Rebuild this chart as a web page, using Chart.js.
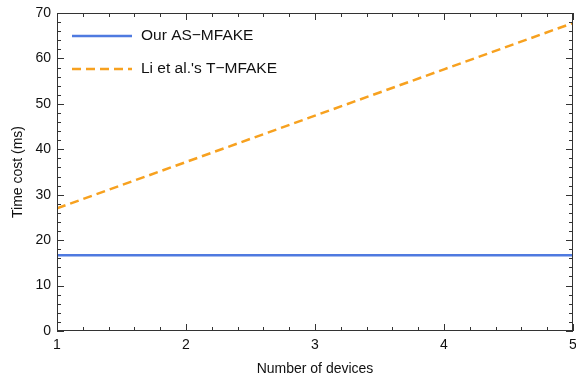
<!DOCTYPE html>
<html lang="en">
<head>
    <meta charset="UTF-8">
    <title>Time cost vs number of devices</title>
    <script src="https://cdn.jsdelivr.net/npm/chart.js"></script>
    <style>
        html, body { margin: 0; padding: 0; background: #fff; }
        #wrap { width: 576px; height: 382px; }
    </style>
</head>
<body>
<div id="wrap"><canvas id="timeChart" width="576" height="382"></canvas></div>

<script>
    // data
    const devices = [1, 2, 3, 4, 5];
    const ourAsMfake = [16.7, 16.7, 16.7, 16.7, 16.7];
    const liTMfake = [27.0, 37.2, 47.4, 57.6, 67.8];
    const seriesNames = ['Our AS\u2212MFAKE', 'Li et al.\'s T\u2212MFAKE'];

    const FONT = '"Liberation Sans", Arial, sans-serif';
    const AXIS = '#333';

    // inward ticks on all four sides + frame, Mathematica style
    const frameTicks = {
        id: 'frameTicks',
        afterDraw(chart) {
            const { ctx, chartArea: a, scales: { x, y } } = chart;
            ctx.save();
            ctx.lineWidth = 1;
            ctx.strokeStyle = AXIS;
            ctx.strokeRect(a.left + 0.5, a.top + 0.5, a.right - a.left - 1, a.bottom - a.top - 1);
            ctx.beginPath();
            for (let v = 1; v <= 5.001; v += 0.2) {
                const px = Math.round(x.getPixelForValue(v)) + 0.5;
                const major = Math.abs(v - Math.round(v)) < 0.01;
                const len = major ? 7 : 4;
                ctx.moveTo(px, a.bottom); ctx.lineTo(px, a.bottom - len);
                ctx.moveTo(px, a.top); ctx.lineTo(px, a.top + len);
            }
            for (let v = 0; v <= 70; v += 2) {
                const py = Math.round(y.getPixelForValue(v)) + 0.5;
                const len = v % 10 === 0 ? 7 : 4;
                ctx.moveTo(a.left, py); ctx.lineTo(a.left + len, py);
                ctx.moveTo(a.right, py); ctx.lineTo(a.right - len, py);
            }
            ctx.stroke();

            // legend inside the plot
            chart.data.datasets.forEach((ds, i) => {
                const ly = a.top + 23 + i * 33;
                ctx.beginPath();
                ctx.strokeStyle = ds.borderColor;
                ctx.lineWidth = ds.borderWidth;
                ctx.setLineDash(ds.borderDash || []);
                ctx.moveTo(a.left + 15, ly);
                ctx.lineTo(a.left + 75, ly);
                ctx.stroke();
                ctx.setLineDash([]);
                ctx.fillStyle = '#111';
                ctx.font = '15.5px ' + FONT;
                ctx.textBaseline = 'middle';
                ctx.fillText(ds.label, a.left + 84, ly);
            });
            ctx.restore();
        }
    };

    new Chart(document.getElementById('timeChart'), {
        type: 'line',
        data: {
            labels: devices,
            datasets: [{
                label: seriesNames[0],
                data: devices.map((d, i) => ({ x: d, y: ourAsMfake[i] })),
                borderColor: '#4f7ae0',
                borderWidth: 2.5,
                pointRadius: 0,
                tension: 0
            }, {
                label: seriesNames[1],
                data: devices.map((d, i) => ({ x: d, y: liTMfake[i] })),
                borderColor: '#f7a11f',
                borderWidth: 2.5,
                borderDash: [9, 5],
                pointRadius: 0,
                tension: 0
            }]
        },
        options: {
            responsive: false,
            animation: false,
            layout: { autoPadding: false, padding: { top: 13, right: 3, left: 0, bottom: 0 } },
            plugins: { legend: { display: false }, tooltip: { enabled: false } },
            scales: {
                x: {
                    type: 'linear',
                    min: 1, max: 5,
                    grid: { display: false, drawTicks: false },
                    border: { display: false },
                    ticks: {
                        stepSize: 1, padding: 6, color: '#111',
                        font: { family: FONT, size: 14 }
                    },
                    title: {
                        display: true, text: 'Number of devices', color: '#111',
                        font: { family: FONT, size: 14 }, padding: { top: 8 }
                    },
                    afterFit(scale) {
                        scale.height = 51;
                        scale.paddingLeft = 0;
                        scale.paddingRight = 0;
                    }
                },
                y: {
                    min: 0, max: 70,
                    grid: { display: false, drawTicks: false },
                    border: { display: false },
                    ticks: {
                        stepSize: 10, padding: 6, color: '#111',
                        font: { family: FONT, size: 14 }
                    },
                    title: {
                        display: true, text: 'Time cost (ms)', color: '#111',
                        font: { family: FONT, size: 14 }, padding: { top: 10, bottom: 6 }
                    },
                    afterFit(scale) {
                        scale.width = 57;
                        scale.paddingTop = 0;
                        scale.paddingBottom = 0;
                    }
                }
            }
        },
        plugins: [frameTicks]
    });
</script>
</body>
</html>
